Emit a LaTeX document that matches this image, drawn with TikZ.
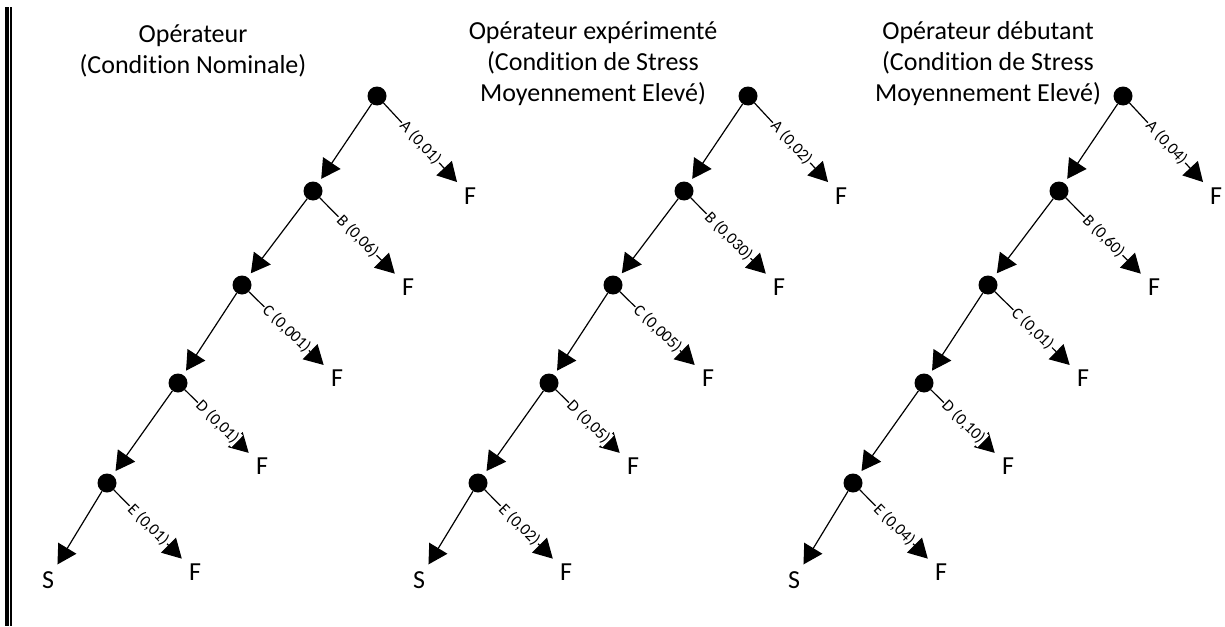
\documentclass[tikz,border=0pt]{standalone}
\usepackage{fontspec}
\setmainfont{Carlito}[Ligatures={NoCommon}]
\usetikzlibrary{arrows.meta,calc}
\newcommand\eventtree[7]{%
 \begin{scope}[xshift=#2pt]
  \node[ev] (A#1) at (377,96) {};
  \node[ev] (B#1) at (313,191) {};
  \node[ev] (C#1) at (242,285) {};
  \node[ev] (D#1) at (178,383) {};
  \node[ev] (E#1) at (107,483) {};
  \node[endtxt] (FA#1) at (470,196) {F};
  \node[endtxt] (FB#1) at (408,287) {F};
  \node[endtxt] (FC#1) at (337,378) {F};
  \node[endtxt] (FD#1) at (262,466) {F};
  \node[endtxt] (FE#1) at (195,572) {F};
  \node[endtxt] (S#1) at (48,580) {S};
  \draw[arr,shorten >=5pt] (A#1) -- (B#1);
  \draw[arr,shorten >=5pt] (B#1) -- (C#1);
  \draw[arr,shorten >=5pt] (C#1) -- (D#1);
  \draw[arr,shorten >=5pt] (D#1) -- (E#1);
  \draw[arr,shorten >=8pt] (E#1) -- (S#1);
  \draw[arr,shorten >=10pt] (A#1) -- node[lab]{A (#3)} (FA#1);
  \draw[arr,shorten >=10pt] (B#1) -- node[lab]{B (#4)} (FB#1);
  \draw[arr,shorten >=10pt] (C#1) -- node[lab]{C (#5)} (FC#1);
  \draw[arr,shorten >=10pt] (D#1) -- node[lab]{D (#6)} (FD#1);
  \draw[arr,shorten >=10pt] (E#1) -- node[lab]{E (#7)} (FE#1);
 \end{scope}}
\begin{document}
\begin{tikzpicture}[x=1pt,y=-1pt,
  ev/.style={circle,fill=black,minimum size=19pt,inner sep=0pt},
  endtxt/.style={font=\fontsize{26}{31}\selectfont,inner sep=0pt},
  ttl/.style={font=\fontsize{26}{31}\selectfont,align=center,inner sep=0pt},
  lab/.style={font=\fontsize{16.5}{19}\selectfont,sloped,fill=white,inner sep=1pt,pos=0.46},
  arr/.style={line width=1.2pt,-{Triangle[length=19pt,width=21pt]}},
]
\useasboundingbox (0,0) rectangle (1225,626);
\fill (5,7) rectangle (9,626);
\fill (10,7) rectangle (12,626);
\node[ttl] (T1) at (193,51) {Opérateur\\(Condition Nominale)};
\node[ttl] (T2) at (593,64) {Opérateur expérimenté\\(Condition de Stress\\Moyennement Elevé)};
\node[ttl] (T3) at (988,64) {Opérateur débutant\\(Condition de Stress\\Moyennement Elevé)};
\eventtree{a}{0}{0,01}{0,06}{0,001}{0,01}{0,01}
\eventtree{b}{371}{0,02}{0,030}{0,005}{0,05}{0,02}
\eventtree{c}{746}{0,04}{0,60}{0,01}{0,10}{0,04}
\end{tikzpicture}
\end{document}
